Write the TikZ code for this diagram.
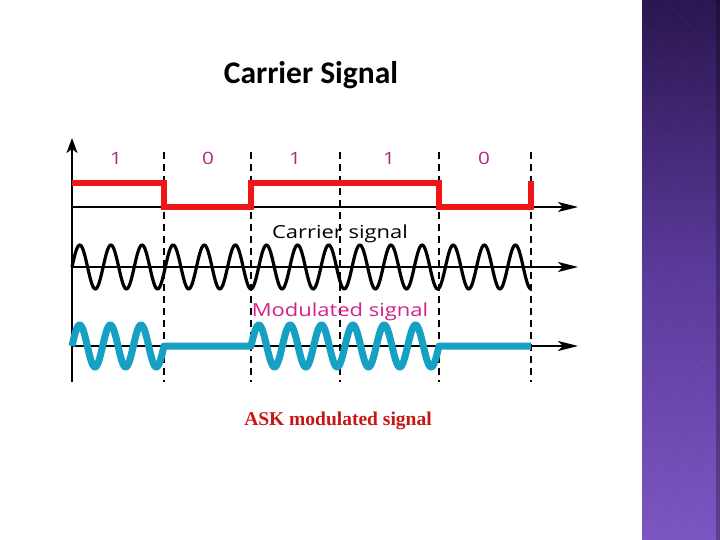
\documentclass[tikz,border=0pt]{standalone}
\usepackage{fontspec}
\setmainfont{Liberation Serif}
\newfontfamily\titlefont{Carlito}
\newfontfamily\labfont{Open Sans}
\usetikzlibrary{arrows.meta}
\definecolor{sigred}{RGB}{238,22,22}
\definecolor{sigblue}{RGB}{22,160,196}
\definecolor{bitmag}{RGB}{178,40,124}
\definecolor{modmag}{RGB}{212,34,138}
\definecolor{caprd}{RGB}{200,22,22}
\definecolor{barTop}{RGB}{42,22,80}
\definecolor{barMid}{RGB}{90,58,154}
\definecolor{barBot}{RGB}{124,86,194}
\newcommand{\wideTxt}[1]{\scalebox{1.22}[1]{#1}}
\tikzset{
  axisline/.style={line width=1.4pt, black},
  axisarrow/.style={axisline, -{Stealth[length=20pt,width=10pt,inset=5pt]}},
  uparrow/.style={axisline, -{Stealth[length=15pt,width=11pt,inset=4pt]}},
  divider/.style={line width=1.5pt, black, dash pattern=on 7pt off 5pt},
  bitlabel/.style={font=\labfont\fontsize{17}{17}\selectfont, text=bitmag, anchor=base, inner sep=0pt},
  siglabel/.style={font=\labfont\fontsize{18}{18}\selectfont, anchor=base, inner sep=0pt},
}
\begin{document}
\begin{tikzpicture}[x=1pt,y=-1pt]
\useasboundingbox (0,0) rectangle (720,540);
\fill[white] (0,0) rectangle (720,540);
% purple side bar
\shade[top color=barTop, bottom color=barBot, middle color=barMid] (642,0) rectangle (720,540);
\begin{scope}
\clip (642,0) rectangle (720,540);
\foreach \k in {-30,...,10} {
  \draw[white, opacity=0.03, line width=1pt] (642,{\k*22}) -- ++(100,100);
  \draw[black, opacity=0.03, line width=1pt] (720,{\k*22+560}) -- ++(-100,-100);
}
\end{scope}
\fill[black, opacity=0.25] (716,0) rectangle (720,540);

% title
\node[font=\titlefont\bfseries\fontsize{31.5}{32}\selectfont, anchor=base, inner sep=0pt] (title) at (311,84) {Carrier Signal};

% dividers
\foreach \xx/\nm in {164/d1,251/d2,340/d3,439/d4,531/d5} {
  \coordinate (\nm t) at (\xx,152);
  \coordinate (\nm b) at (\xx,382);
  \draw[divider] (\nm t) -- (\nm b);
}

% axes
\coordinate (origin) at (72,382);
\coordinate (ytop) at (72,138);
\draw[uparrow] (origin) -- (ytop);
\coordinate (a1s) at (72,207); \coordinate (a1e) at (578,207);
\coordinate (a2s) at (72,267); \coordinate (a2e) at (578,267);
\coordinate (a3s) at (72,346); \coordinate (a3e) at (578,346);
\draw[axisarrow] (a1s) -- (a1e);
\draw[axisarrow] (a2s) -- (a2e);
\draw[axisarrow] (a3s) -- (a3e);

% bit labels
\node[bitlabel] (b1) at (116,165) {\wideTxt{1}};
\node[bitlabel] (b2) at (208,165) {\wideTxt{0}};
\node[bitlabel] (b3) at (295,165) {\wideTxt{1}};
\node[bitlabel] (b4) at (389,165) {\wideTxt{1}};
\node[bitlabel] (b5) at (484,165) {\wideTxt{0}};

% digital signal
\draw[sigred, line width=5.5pt, line join=miter]
  (72,183) -- (164,183) -- (164,207) -- (251,207) -- (251,183) -- (439,183)
  -- (439,207) -- (531,207) -- (531,181);

% carrier
\node[siglabel] (carlab) at (340,239) {\wideTxt{Carrier signal}};
\draw[black, line width=3.2pt, line join=round]
  plot[domain=72:531, samples=500] (\x, {267 - 22*sin((\x-72)/31.1186*360)});

% modulated
\node[siglabel, text=modmag] (modlab) at (340,316) {\wideTxt{Modulated signal}};
\draw[sigblue, line width=7pt, line join=round]
  plot[domain=72:164, samples=200] (\x, {346 - 21*sin((\x-72)/30.6667*360)})
  -- (251,346)
  -- plot[domain=251:439, samples=400] (\x, {346 - 21*sin((\x-251)/31.3333*360)})
  -- (531,346);

% caption
\node[font=\bfseries\fontsize{19.5}{20}\selectfont, text=caprd, anchor=base, inner sep=0pt] (caption) at (338,425) {ASK modulated signal};
\end{tikzpicture}
\end{document}
